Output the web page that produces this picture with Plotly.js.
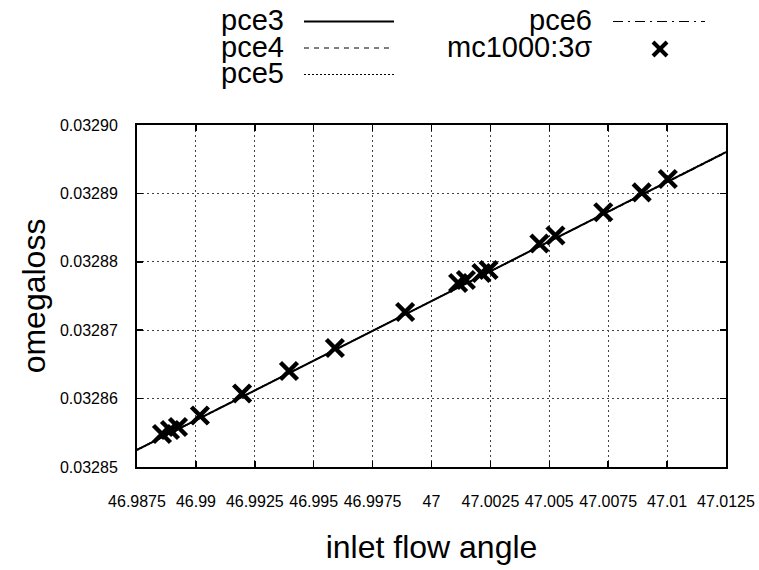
<!DOCTYPE html>
<html>
<head>
<meta charset="utf-8">
<script src="https://cdn.plot.ly/plotly-3.0.1.min.js"></script>
<style>html,body{margin:0;padding:0;background:#fff;}#chart{width:759px;height:570px;}</style>
</head>
<body>
<div id="chart"></div>
<script>
// ---- data ----
var lineX = [46.9875, 46.99375, 47.0, 47.00625, 47.0125];
var pce3Y = [0.03285249, 0.03286338, 0.03287427, 0.03288516, 0.03289605];
var pce4Y = [0.03285255, 0.03286342, 0.03287424, 0.03288510, 0.03289596];
var pce5Y = [0.03285244, 0.03286335, 0.03287430, 0.03288520, 0.03289610];
var pce6Y = [0.03285252, 0.03286340, 0.03287425, 0.03288512, 0.03289600];

var mcX = [46.98856, 46.98890, 46.98924, 46.99017, 46.99196, 46.99395, 46.99590, 46.99888,
           47.00113, 47.00146, 47.00212, 47.00242, 47.00458, 47.00526, 47.00729, 47.00892, 47.01003];
var mcY = [0.03285482, 0.03285541, 0.03285585, 0.03285753, 0.03286075, 0.03286404, 0.03286740, 0.03287266,
           0.03287690, 0.03287734, 0.03287836, 0.03287880, 0.03288268, 0.03288385, 0.03288724, 0.03289016, 0.03289211];

var xTickVals = [46.9875, 46.99, 46.9925, 46.995, 46.9975, 47, 47.0025, 47.005, 47.0075, 47.01, 47.0125];
var xTickText = ["46.9875", "46.99", "46.9925", "46.995", "46.9975", "47", "47.0025", "47.005", "47.0075", "47.01", "47.0125"];
var yTickVals = [0.03285, 0.03286, 0.03287, 0.03288, 0.03289, 0.03290];
var yTickText = ["0.03285", "0.03286", "0.03287", "0.03288", "0.03289", "0.03290"];

var seriesNames = ["pce3", "pce4", "pce5", "pce6", "mc1000:3σ"];

// ---- layout geometry (pixels) ----
var W = 759, H = 570, L = 137, R = 726, T = 125, B = 467;
function px(x) { return (x - L) / (R - L); }
function py(y) { return (B - y) / (B - T); }

var font = "Liberation Sans, Arial, Helvetica, sans-serif";
var DASH4 = "5px,5px", DOT5 = "2px,2px", DASHDOT6 = "10px,5px,2px,5px";

var traces = [
  {x: lineX, y: pce3Y, name: seriesNames[0], mode: "lines", line: {color: "#000", width: 2, dash: "solid"}},
  {x: lineX, y: pce4Y, name: seriesNames[1], mode: "lines", line: {color: "#000", width: 1.2, dash: DASH4}},
  {x: lineX, y: pce5Y, name: seriesNames[2], mode: "lines", line: {color: "#000", width: 1.2, dash: DOT5}},
  {x: lineX, y: pce6Y, name: seriesNames[3], mode: "lines", line: {color: "#000", width: 1.2, dash: DASHDOT6}},
  {x: mcX, y: mcY, name: seriesNames[4], mode: "markers",
   marker: {symbol: "x-thin", size: 17, color: "#000", line: {color: "#000", width: 4.5}}}
];

// legend drawn gnuplot-style
var rows = [20.5, 47, 73.5];
var col1TextR = 285, col1S0 = 304, col1S1 = 394;
var col2TextR = 593, col2S0 = 613, col2S1 = 705;
var legendDefs = [
  {name: seriesNames[0], xr: col1TextR, s0: col1S0, s1: col1S1, y: rows[0], dash: "solid", w: 2},
  {name: seriesNames[1], xr: col1TextR, s0: col1S0, s1: col1S1, y: rows[1], dash: DASH4, w: 1},
  {name: seriesNames[2], xr: col1TextR, s0: col1S0, s1: col1S1, y: rows[2], dash: DOT5, w: 1},
  {name: seriesNames[3], xr: col2TextR, s0: col2S0, s1: col2S1, y: rows[0], dash: DASHDOT6, w: 1},
  {name: seriesNames[4], xr: col2TextR, s0: null, s1: null, y: rows[1], dash: null, w: 0}
];
var annotations = [], shapes = [];
legendDefs.forEach(function (d) {
  annotations.push({xref: "paper", yref: "paper", x: px(d.xr), y: py(d.y), xanchor: "right", yanchor: "middle",
    text: d.name, showarrow: false, borderpad: 0, font: {family: font, size: 29, color: "#000"}});
  if (d.dash) {
    shapes.push({type: "line", xref: "paper", yref: "paper", x0: px(d.s0), x1: px(d.s1), y0: py(d.y + 1), y1: py(d.y + 1),
      line: {color: "#000", width: d.w, dash: d.dash}});
  } else {
    var cx = 660, cy = d.y + 2, h = 7;
    shapes.push({type: "line", xref: "paper", yref: "paper", x0: px(cx - h), x1: px(cx + h), y0: py(cy - h), y1: py(cy + h), line: {color: "#000", width: 4}});
    shapes.push({type: "line", xref: "paper", yref: "paper", x0: px(cx - h), x1: px(cx + h), y0: py(cy + h), y1: py(cy - h), line: {color: "#000", width: 4}});
  }
});

var axisCommon = {
  showline: true, linecolor: "#000", linewidth: 2, mirror: "ticks",
  ticks: "inside", ticklen: 6, tickwidth: 1.5, tickcolor: "#000",
  showgrid: true, gridcolor: "#444", griddash: "2px,3px", gridwidth: 1,
  zeroline: false, tickfont: {family: font, size: 16, color: "#000"}
};

var layout = {
  width: W, height: H,
  margin: {l: L, r: W - R, t: T, b: H - B, pad: 0},
  paper_bgcolor: "#fff", plot_bgcolor: "#fff",
  showlegend: false,
  xaxis: Object.assign({}, axisCommon, {
    range: [46.9875, 47.0125], tickmode: "array", tickvals: xTickVals, ticktext: xTickText,
    ticklabelstandoff: 19,
    title: {text: "inlet flow angle", font: {family: font, size: 32, color: "#000"}, standoff: 26}
  }),
  yaxis: Object.assign({}, axisCommon, {
    range: [0.03285, 0.03290], tickmode: "array", tickvals: yTickVals, ticktext: yTickText,
    ticklabelstandoff: 14,
    title: {text: "omegaloss", font: {family: font, size: 32, color: "#000"}, standoff: 5}
  }),
  annotations: annotations,
  shapes: shapes
};

Plotly.newPlot("chart", traces, layout, {staticPlot: true, displayModeBar: false});
</script>
</body>
</html>
